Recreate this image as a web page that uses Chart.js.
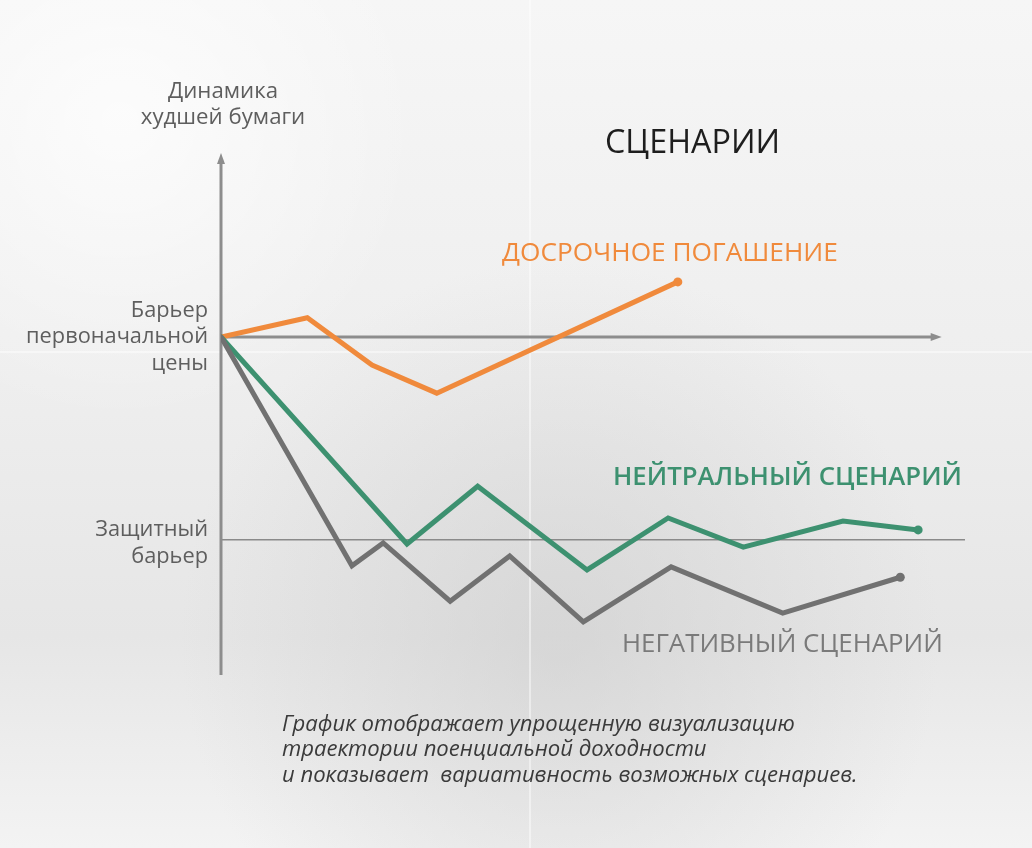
<!DOCTYPE html>
<html><head><meta charset="utf-8">
<script src="https://cdn.jsdelivr.net/npm/chart.js@4/dist/chart.umd.min.js"></script>
<style>html,body{margin:0;padding:0;background:#eee;overflow:hidden}canvas{display:block}</style>
</head><body>
<canvas id="c" width="1032" height="848"></canvas>
<script>
// Data (x: time units 0..100, y: level relative to initial barrier)
const earlyX   = [0, 11.6, 20.3, 29.0, 61.4];
const earlyY   = [0, 3.7, -5.4, -10.8, 10.6];
const neutralX = [0, 25.0, 34.5, 49.2, 60.1, 70.2, 83.6, 93.7];
const neutralY = [0, -39.8, -28.7, -44.8, -34.8, -40.4, -35.4, -37.1];
const negX     = [0, 17.6, 21.8, 30.8, 38.8, 48.7, 60.5, 75.5, 91.3];
const negY     = [0, -44.0, -39.6, -50.8, -42.1, -54.8, -44.2, -53.1, -46.2];
const initialBarrier = 0;
const protectiveBarrier = -39;
const seriesNames = ['ДОСРОЧНОЕ ПОГАШЕНИЕ', 'НЕЙТРАЛЬНЫЙ СЦЕНАРИЙ', 'НЕГАТИВНЫЙ СЦЕНАРИЙ'];
const title = 'СЦЕНАРИИ';
const yAxisTitle = ['Динамика', 'худшей бумаги'];
const initLabel = ['Барьер', 'первоначальной', 'цены'];
const protLabel = ['Защитный', 'барьер'];
const footnote = ['График отображает упрощенную визуализацию', 'траектории поенциальной доходности', 'и показывает  вариативность возможных сценариев.'];

const pts = (xs, ys) => xs.map((x, i) => ({x, y: ys[i]}));
const ORANGE = '#f08a3c', GREEN = '#3d9170', GRAY = '#717171', AXIS = '#8d8d8d';

function endDot(color) {
  return {
    pointRadius: c => c.dataIndex === c.dataset.data.length - 1 ? 4.5 : 0,
    pointBackgroundColor: color, pointBorderColor: color, pointBorderWidth: 0
  };
}

const bgPlugin = {
  id: 'bg',
  beforeDraw(chart) {
    const ctx = chart.ctx, W = chart.width, H = chart.height;
    ctx.save();
    let g = ctx.createLinearGradient(0, 0, 0, H);
    g.addColorStop(0, '#f6f6f6'); g.addColorStop(0.45, '#eeeeee');
    g.addColorStop(0.75, '#e6e6e6'); g.addColorStop(1, '#f3f3f3');
    ctx.fillStyle = g; ctx.fillRect(0, 0, W, H);
    let r = ctx.createRadialGradient(560, 640, 20, 560, 640, 380);
    r.addColorStop(0, 'rgba(200,200,200,0.5)'); r.addColorStop(1, 'rgba(200,200,200,0)');
    ctx.fillStyle = r; ctx.fillRect(0, 0, W, H);
    let r2 = ctx.createRadialGradient(120, 120, 10, 120, 120, 300);
    r2.addColorStop(0, 'rgba(255,255,255,0.7)'); r2.addColorStop(1, 'rgba(255,255,255,0)');
    ctx.fillStyle = r2; ctx.fillRect(0, 0, W, H);
    ctx.strokeStyle = 'rgba(255,255,255,0.45)'; ctx.lineWidth = 2;
    ctx.beginPath(); ctx.moveTo(530, 0); ctx.lineTo(530, 848); ctx.stroke();
    ctx.beginPath(); ctx.moveTo(0, 352); ctx.lineTo(1032, 352); ctx.stroke();
    ctx.restore();
  },
  beforeDatasetsDraw(chart) {
    const ctx = chart.ctx, xs = chart.scales.x, ys = chart.scales.y, a = chart.chartArea;
    const x0 = xs.getPixelForValue(0);
    const yb = ys.getPixelForValue(initialBarrier);
    const yp = ys.getPixelForValue(protectiveBarrier);
    ctx.save();
    ctx.strokeStyle = '#8a8a8a'; ctx.lineWidth = 1.5;
    ctx.beginPath(); ctx.moveTo(x0, yp); ctx.lineTo(xs.getPixelForValue(100), yp); ctx.stroke();
    ctx.strokeStyle = AXIS; ctx.fillStyle = AXIS; ctx.lineWidth = 3;
    ctx.beginPath(); ctx.moveTo(x0, a.bottom); ctx.lineTo(x0, a.top + 6); ctx.stroke();
    ctx.beginPath(); ctx.moveTo(x0, a.top - 2); ctx.lineTo(x0 - 4, a.top + 9); ctx.lineTo(x0 + 4, a.top + 9); ctx.closePath(); ctx.fill();
    const xe = xs.getPixelForValue(96.6);
    ctx.beginPath(); ctx.moveTo(x0, yb); ctx.lineTo(xe - 6, yb); ctx.stroke();
    ctx.beginPath(); ctx.moveTo(xe + 2, yb); ctx.lineTo(xe - 9, yb - 4); ctx.lineTo(xe - 9, yb + 4); ctx.closePath(); ctx.fill();
    ctx.restore();
  },
  afterDraw(chart) {
    const ctx = chart.ctx, xs = chart.scales.x, ys = chart.scales.y;
    const x0 = xs.getPixelForValue(0);
    const yb = ys.getPixelForValue(initialBarrier);
    const yp = ys.getPixelForValue(protectiveBarrier);
    ctx.save();
    ctx.textBaseline = 'middle';
    const sizeFor = (t, w, fam, style) => {
      ctx.font = (style || '') + ' 20px ' + fam;
      return 20 * w / ctx.measureText(t).width;
    };
    const put = (t, x, y, size, fam, col, align, style) => {
      ctx.font = (style || '') + ' ' + (+size).toFixed(2) + 'px ' + fam;
      ctx.fillStyle = col; ctx.textAlign = align; ctx.fillText(t, x, y);
    };
    const fit = (t, x, y, w, fam, col, align, style) => put(t, x, y, sizeFor(t, w, fam, style), fam, col, align, style);
    const F = '"Open Sans", sans-serif';
    const TXT = '#5e5e5e';
    // y-axis title
    const s1 = sizeFor(yAxisTitle[0], 110, F);
    put(yAxisTitle[0], x0 + 2, 92, s1, F, TXT, 'center');
    put(yAxisTitle[1], x0 + 2, 118, s1, F, TXT, 'center');
    // title
    fit(title, 605, 144, 175, F, '#1e1e1e', 'left');
    // series labels
    fit(seriesNames[0], 502, 254, 336, F, ORANGE, 'left');
    fit(seriesNames[1], 613, 478, 349, F, GREEN, 'left', '600');
    fit(seriesNames[2], 622, 645, 321, F, '#7a7a7a', 'left');
    // barrier labels
    const s2 = sizeFor(initLabel[1], 182, F);
    put(initLabel[0], 208, 311, s2, F, TXT, 'right');
    put(initLabel[1], 208, 337, s2, F, TXT, 'right');
    put(initLabel[2], 208, 364, s2, F, TXT, 'right');
    put(protLabel[0], 208, 530, s2, F, TXT, 'right');
    put(protLabel[1], 208, 557, s2, F, TXT, 'right');
    // footnote
    const fs = sizeFor(footnote[0], 513, F, 'italic');
    const fy = [725, 750, 776];
    footnote.forEach((t, i) => put(t, 282, fy[i], fs, F, '#3a3a3a', 'left', 'italic'));
    ctx.restore();
  }
};

new Chart(document.getElementById('c'), {
  type: 'line',
  data: {
    datasets: [
      Object.assign({label: seriesNames[2], data: pts(negX, negY), borderColor: GRAY, borderWidth: 5}, endDot(GRAY)),
      Object.assign({label: seriesNames[1], data: pts(neutralX, neutralY), borderColor: GREEN, borderWidth: 5}, endDot(GREEN)),
      Object.assign({label: seriesNames[0], data: pts(earlyX, earlyY), borderColor: ORANGE, borderWidth: 5}, endDot(ORANGE))
    ]
  },
  options: {
    responsive: false, animation: false, devicePixelRatio: 1,
    layout: {padding: {left: 221, right: 67, top: 155, bottom: 173}},
    elements: {line: {tension: 0, borderJoinStyle: 'miter', borderCapStyle: 'round', fill: false}},
    plugins: {legend: {display: false}, tooltip: {enabled: false}},
    scales: {
      x: {type: 'linear', min: 0, max: 100, display: false},
      y: {type: 'linear', min: -65, max: 35, display: false}
    }
  },
  plugins: [bgPlugin]
});
</script>
</body></html>
